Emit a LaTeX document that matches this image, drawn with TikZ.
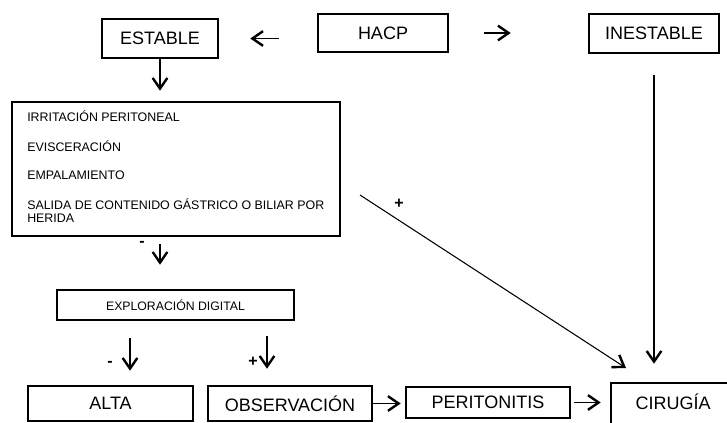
\documentclass[tikz,border=0pt]{standalone}
\usepackage{fontspec}
\setmainfont{Liberation Sans}
\usetikzlibrary{arrows.meta}
\begin{document}
\begin{tikzpicture}[x=0.75pt,y=-0.75pt,
  box/.style={draw,line width=1.9pt,inner sep=0pt,font=\fontsize{13.5}{16}\selectfont},
  smallbox/.style={draw,line width=1.9pt,inner sep=0pt,font=\fontsize{9.2}{11}\selectfont},
  item/.style={anchor=base west,inner sep=0pt,font=\fontsize{9.3}{10.5}\selectfont},
  sign/.style={inner sep=0pt,font=\bfseries\fontsize{12}{14}\selectfont},
  arr/.style={line width=0.8pt,-{Straight Barb[length=8pt,width=11pt,line width=1.8pt]}}]
\clip (0,0) rectangle (727,422);

% top row
\node[box,minimum width=87pt,minimum height=29.25pt] (estable) at (160,38.5) {ESTABLE};
\node[box,minimum width=97.5pt,minimum height=28.5pt] (hacp) at (383,33) {HACP};
\node[box,minimum width=97.5pt,minimum height=29.25pt] (inestable) at (654,33.5) {INESTABLE};

% criteria box with its list
\node[smallbox,minimum width=246pt,minimum height=100.5pt] (criterios) at (176,169) {};
\node[item] (c1) at (27,121) {IRRITACIÓN PERITONEAL};
\node[item] (c2) at (27,151) {EVISCERACIÓN};
\node[item] (c3) at (27,179) {EMPALAMIENTO};
\node[item] (c4) at (27,209) {SALIDA DE CONTENIDO GÁSTRICO O BILIAR POR};
\node[item] (c5) at (27,222.7) {HERIDA};

\node[smallbox,minimum width=177.75pt,minimum height=22.5pt] (explo) at (175.5,305) {EXPLORACIÓN DIGITAL};

% bottom row
\node[box,minimum width=123.75pt,minimum height=26.25pt] (alta) at (110.5,403.5) {ALTA};
\node[box,minimum width=123pt,minimum height=26.25pt] (obs) at (290,403.5) {OBSERVACIÓN};
\node[box,minimum width=123pt,minimum height=23.25pt] (perit) at (488,402.5) {PERITONITIS};
\node[box,minimum width=93pt,minimum height=32.25pt,text depth=3.75pt] (cirugia) at (673,404.5) {CIRUGÍA};

% helper columns for the short arrows
\coordinate (colA) at (130,0);
\coordinate (colB) at (267,0);
\coordinate (dstart) at (360,195);
\coordinate (dend) at (626,368);

% connectors
\draw[arr,shorten <=28.5pt,shorten >=23.25pt] (hacp.west |- estable.east) -- (estable.east);
\draw[arr,shorten <=26.25pt,shorten >=57.75pt] (hacp.east) -- (inestable.west |- hacp.east);
\draw[arr,shorten <=15.75pt,shorten >=13.5pt] (inestable.south) -- (cirugia.north -| inestable.south);
\draw[arr,shorten >=7.5pt] (estable.south) -- (criterios.north -| estable.south);
\draw[arr,shorten <=5.25pt,shorten >=18pt] (criterios.south -| estable.south) -- (explo.north -| estable.south);
\draw[arr,shorten <=12.75pt,shorten >=10.5pt] (explo.south -| colA) -- (alta.north -| colA);
\draw[arr,shorten <=11.25pt,shorten >=12pt] (explo.south -| colB) -- (obs.north -| colB);
\draw[arr,shorten >=3pt] (obs.east) -- (perit.west |- obs.east);
\draw[arr,shorten <=2.25pt,shorten >=6.75pt] (perit.east) -- (cirugia.west |- perit.east);
\draw[arr] (dstart) -- (dend);

% signs
\node[sign] (s1) at (142,244) {-};
\node[sign] (s2) at (110,364) {-};
\node[sign] (s3) at (253,362) {+};
\node[sign] (s4) at (399,204) {+};
\end{tikzpicture}
\end{document}
